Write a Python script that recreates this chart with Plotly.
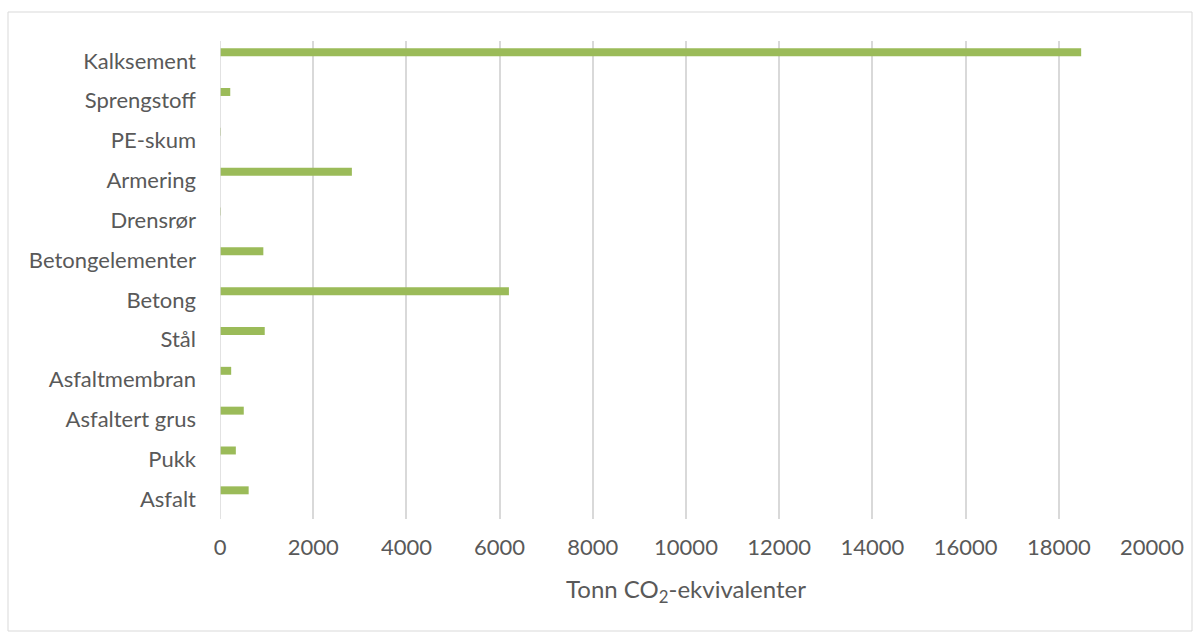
import plotly.graph_objects as go

# Materials, listed bottom to top as they appear on the category axis
materials = ["Asfalt", "Pukk", "Asfaltert grus", "Asfaltmembran", "Stål", "Betong",
             "Betongelementer", "Drensrør", "Armering", "PE-skum", "Sprengstoff", "Kalksement"]
# Emissions in tonnes CO2-equivalents
emissions = [615, 340, 510, 240, 960, 6200, 930, 15, 2830, 5, 220, 18480]

x_ticks = list(range(0, 20001, 2000))

W, H = 1200, 632
L, R, T, B = 220, 48, 41, 113
pw, ph = W - L - R, H - T - B

fig = go.Figure()
fig.add_trace(go.Bar(
    y=materials, x=emissions, orientation="h",
    marker=dict(color="#9BBB59", line=dict(width=0)),
    width=0.2, offset=0.12,
))

font_family = "Lato, Open Sans, sans-serif"
fig.update_layout(
    width=W, height=H,
    margin=dict(l=L, r=R, t=T, b=B),
    paper_bgcolor="white", plot_bgcolor="white",
    showlegend=False,
    font=dict(family=font_family, color="#595959", size=22),
    xaxis=dict(
        range=[0, 20000], tickvals=x_ticks, ticktext=[str(v) for v in x_ticks],
        showgrid=True, gridcolor="#d9d9d9", gridwidth=1.5,
        zeroline=False, showline=False, ticks="",
        tickfont=dict(size=22, color="#595959"),
        ticklabelstandoff=13,
        title=dict(text="Tonn CO<sub>2</sub>-ekvivalenter", font=dict(size=24, color="#595959"), standoff=22),
    ),
    yaxis=dict(
        categoryorder="array", categoryarray=materials,
        range=[-0.5, len(materials) - 0.5],
        showgrid=False, zeroline=False, showline=False, ticks="",
        tickfont=dict(size=22, color="#595959"),
        ticklabelstandoff=23,
    ),
    shapes=[
        # vertical axis line at x = 0
        dict(type="line", xref="x", yref="paper", x0=0, x1=0, y0=0, y1=1,
             line=dict(color="#d9d9d9", width=1.5)),
        # outer chart frame
        dict(type="rect", xref="paper", yref="paper",
             x0=(8 - L) / pw, x1=(1192 - L) / pw,
             y0=(H - B - 631) / ph, y1=(H - B - 12) / ph,
             line=dict(color="#d9d9d9", width=1), fillcolor="rgba(0,0,0,0)", layer="below"),
    ],
)

fig.write_html("out.html")
